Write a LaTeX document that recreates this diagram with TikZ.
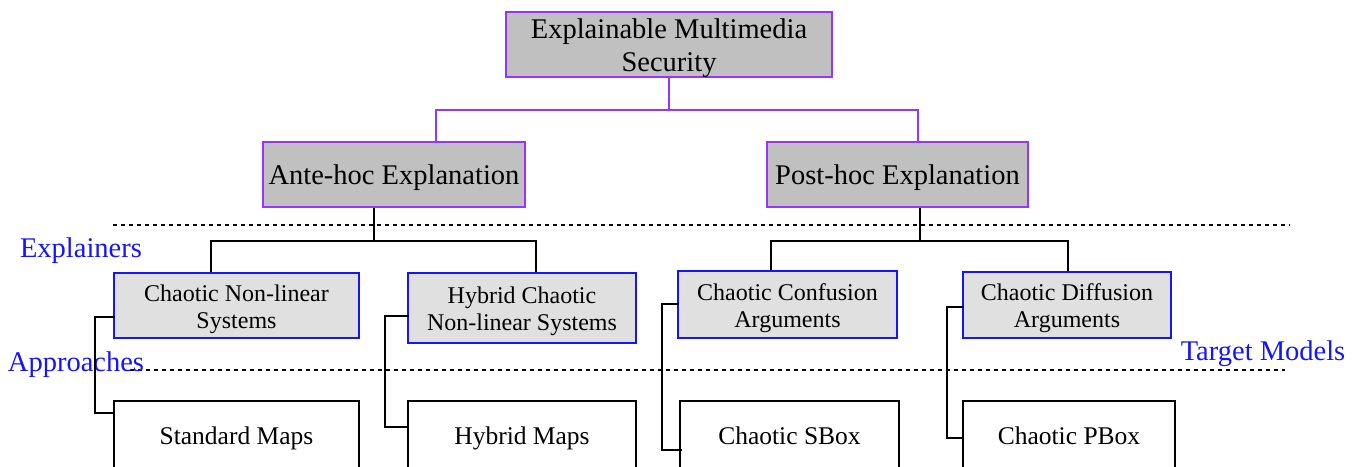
\documentclass[tikz,border=0pt]{standalone}
\usepackage{fontspec}
\setmainfont{Liberation Serif}
\usetikzlibrary{calc}
\definecolor{violetb}{RGB}{153,51,255}
\definecolor{grayA}{RGB}{192,192,192}
\definecolor{grayB}{RGB}{224,224,224}
\definecolor{blueL}{RGB}{20,20,255}
\begin{document}
\begin{tikzpicture}[x=1pt,y=-1pt,
  lvlone/.style={draw=violetb,fill=grayA,line width=2pt,rectangle,inner sep=0pt},
  lvltwo/.style={draw=blueL,fill=grayB,line width=1.6pt,rectangle,inner sep=0pt},
  lvlthree/.style={draw=black,fill=white,line width=1.6pt,rectangle,inner sep=0pt},
  fone/.style={label={[align=center,inner sep=0pt,yshift=-3.5pt,font=\fontsize{28.5}{33}\selectfont]center:#1}},
  ftwo/.style={label={[align=center,inner sep=0pt,yshift=-3.5pt,font=\fontsize{24}{27}\selectfont]center:#1}},
  fthree/.style={label={[inner sep=0pt,text height=0.7em,text depth=0.22em,yshift=-6pt,font=\fontsize{25.5}{29}\selectfont]center:#1}},
  vlink/.style={draw=violetb,line width=2pt},
  blink/.style={draw=black,line width=2pt},
  sep/.style={draw=black,line width=1.3pt,dash pattern=on 4pt off 4pt},
  tag/.style={text=blueL,font=\fontsize{28.5}{33}\selectfont,inner sep=0pt}]
\useasboundingbox (0,0) rectangle (1362,466);
\clip (0,0) rectangle (1362,466);
\fill[white] (0,0) rectangle (1362,466);

% level 1 and 2
\node[lvlone,minimum width=326pt,minimum height=65pt,fone={Explainable Multimedia\\Security}] (top) at (669,44.5) {};
\node[lvlone,minimum width=262pt,minimum height=65pt,fone={Ante-hoc Explanation}] (ante) at (394,174.5) {};
\node[lvlone,minimum width=261pt,minimum height=65pt,fone={Post-hoc Explanation}] (post) at (897.5,174.5) {};

% explainers
\node[lvltwo,minimum width=245pt,minimum height=65pt,ftwo={Chaotic Non-linear\\Systems}] (cnl) at (236.5,305.5) {};
\node[lvltwo,minimum width=228pt,minimum height=70pt,ftwo={Hybrid Chaotic\\Non-linear Systems}] (hcnl) at (522,308) {};
\node[lvltwo,minimum width=219pt,minimum height=67pt,ftwo={Chaotic Confusion\\Arguments}] (cca) at (787.5,304.5) {};
\node[lvltwo,minimum width=208pt,minimum height=66pt,ftwo={Chaotic Diffusion\\Arguments}] (cda) at (1067,305) {};

% approaches
\node[lvlthree,minimum width=245pt,minimum height=70pt,fthree={Standard Maps}] (sm) at (236.5,436) {};
\node[lvlthree,minimum width=228pt,minimum height=70pt,fthree={Hybrid Maps}] (hm) at (522,436) {};
\node[lvlthree,minimum width=219pt,minimum height=70pt,fthree={Chaotic SBox}] (sbox) at (789.5,436) {};
\node[lvlthree,minimum width=212pt,minimum height=70pt,fthree={Chaotic PBox}] (pbox) at (1069,436) {};

% separators and tags
\coordinate (s1a) at (113,225);
\coordinate (s1b) at (1290,225);
\coordinate (s2a) at (130,370);
\coordinate (s2b) at (1285,370);
\draw[sep] (s1a) -- (s1b);
\draw[sep] (s2a) -- (s2b);
\node[tag] (texp) at (81,251) {Explainers};
\node[tag] (tapp) at (76,365) {Approaches};
\node[tag] (ttm) at (1263,354) {Target Models};

% top connectors
\draw[vlink] (top.south) -- ++(0,32) coordinate (tj);
\draw[vlink] (tj) -| ([xshift=42pt]ante.north);
\draw[vlink] (tj) -| ([xshift=20.5pt]post.north);

% ante connectors
\draw[blink] ([xshift=-20pt]ante.south) -- ++(0,33) coordinate (aj);
\draw[blink] (aj) -| ([xshift=-25.5pt]cnl.north);
\draw[blink] (aj) -| ([xshift=14pt]hcnl.north);

% post connectors
\draw[blink] ([xshift=22.5pt]post.south) -- ++(0,33) coordinate (pj);
\draw[blink] (pj) -| ([xshift=-16.5pt]cca.north);
\draw[blink] (pj) -| ([xshift=1pt]cda.north);

% side connectors
\draw[blink] ($(cnl.west)+(2,11.5)$) -- ++(-20,0) |- ($(sm.west)+(2,-23)$);
\draw[blink] ($(hcnl.west)+(2,8)$) -- ++(-24,0) |- ($(hm.west)+(2,-9)$);
\draw[blink] ($(cca.west)+(2,-0.5)$) -- ++(-17,0) |- ($(sbox.west)+(3,14)$);
\draw[blink] ($(cda.west)+(2,2)$) -- ++(-17,0) |- ($(pbox.west)+(1,1.5)$);
\end{tikzpicture}
\end{document}
